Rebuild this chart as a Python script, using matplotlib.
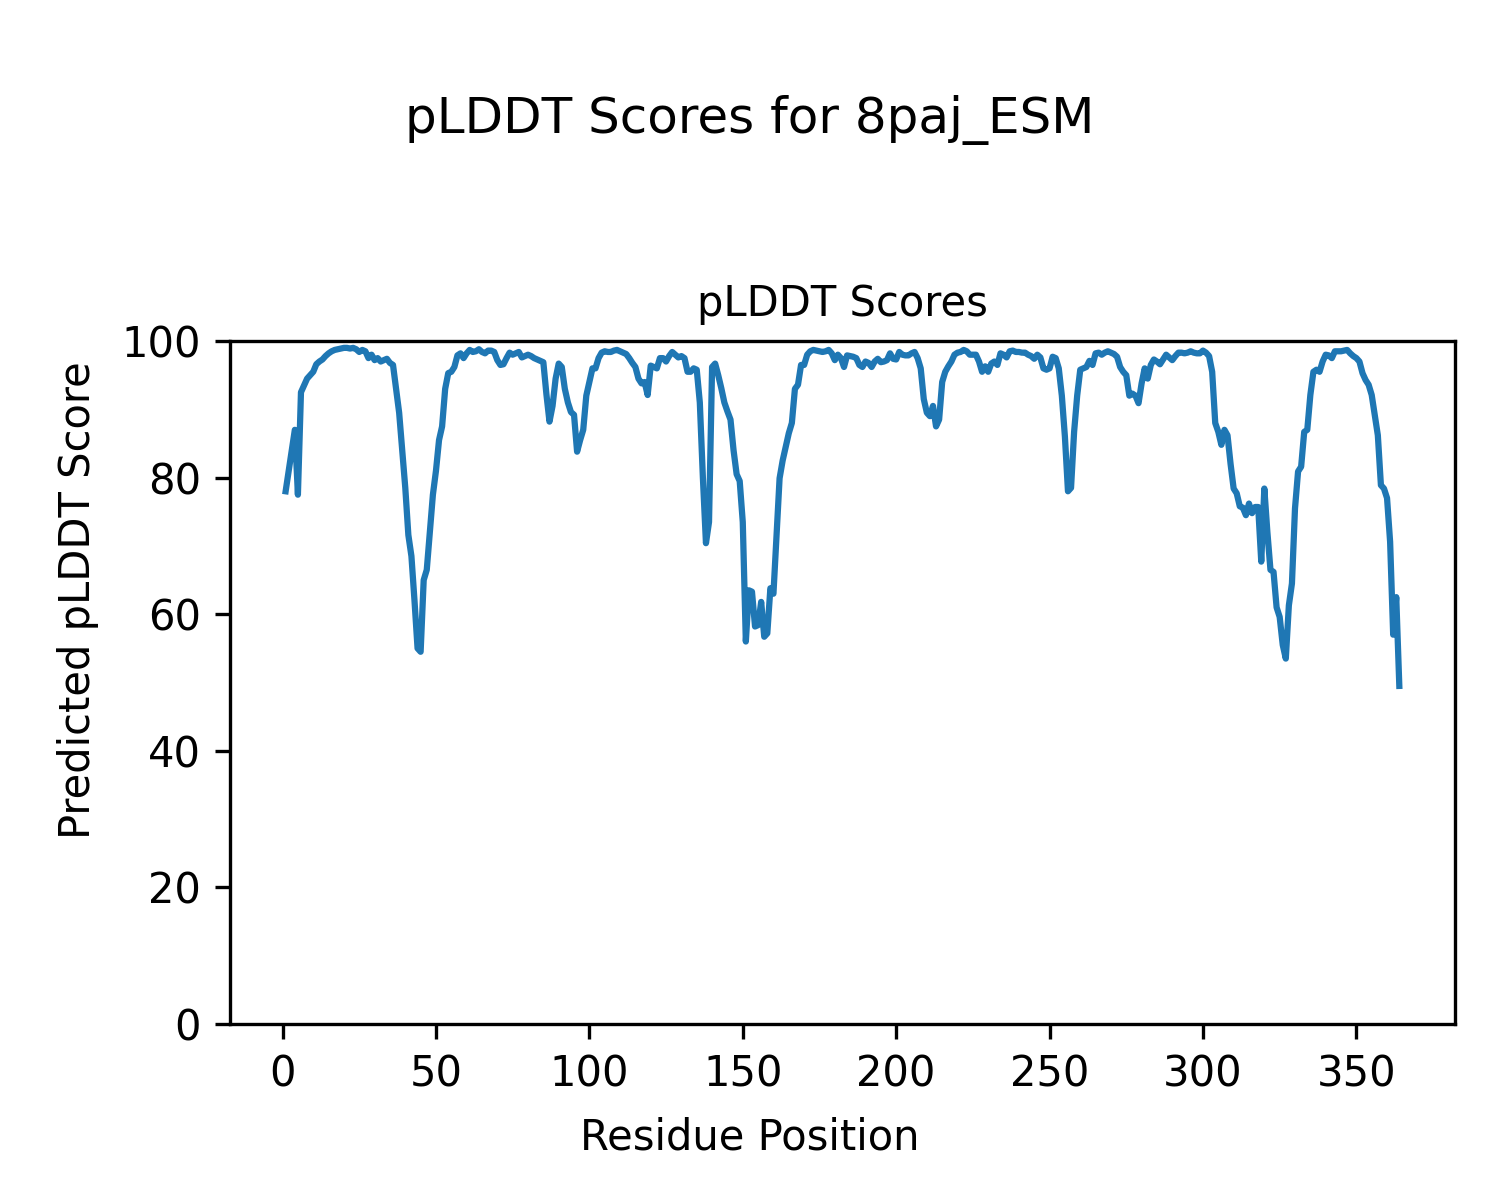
import numpy as np
import matplotlib
matplotlib.use('Agg')
import matplotlib.pyplot as plt


protein_id = '8paj_ESM'

# per-residue pLDDT (residues 1..364)
plddt = [
    78, 81, 84, 87, 77.5, 92.5, 93.5, 94.5, 95, 95.5,
    96.6, 97, 97.3, 97.8, 98.2, 98.5, 98.7, 98.8, 98.9, 99,
    99, 98.9, 99, 98.8, 98.4, 98.7, 98.5, 97.5, 98, 97.2,
    97.5, 97.0, 97.2, 97.4, 96.8, 96.5, 93, 89.5, 84, 78.5,
    71.6, 68.5, 62, 55, 54.5, 65, 66.5, 72, 77.5, 81,
    85.5, 87.5, 93, 95.3, 95.5, 96.2, 97.9, 98.2, 97.5, 98.2,
    98.7, 98.4, 98.5, 98.8, 98.4, 98.2, 98.6, 98.6, 98.4, 97.2,
    96.5, 96.6, 97.5, 98.3, 98, 98.2, 98.4, 97.6, 97.8, 98,
    97.8, 97.5, 97.3, 97.1, 96.9, 92.2, 88.2, 90.5, 94.5, 96.7,
    96.2, 93, 91, 89.6, 89.2, 83.8, 85.5, 87, 92, 94,
    96, 96, 97.5, 98.3, 98.5, 98.4, 98.4, 98.6, 98.7, 98.5,
    98.3, 98.1, 97.5, 96.8, 96.2, 94.5, 93.8, 94, 92.1, 96.4,
    96.2, 96, 97.5, 97.5, 97, 97.8, 98.4, 98, 97.6, 97.8,
    97.5, 95.5, 95.5, 96, 95.8, 91, 80, 70.4, 73.5, 96.2,
    96.7, 95, 93.1, 91, 89.7, 88.5, 84, 80.5, 79.5, 73.5,
    56, 63.5, 63.3, 58.2, 58.4, 61.8, 56.7, 57.2, 63.8, 63,
    71.6, 79.9, 82.5, 84.5, 86.5, 88, 93, 93.6, 96.5, 96.5,
    98, 98.5, 98.7, 98.6, 98.5, 98.4, 98.5, 98.7, 98.2, 97.2,
    98, 97.5, 96.2, 97.9, 97.8, 97.7, 97.5, 96.5, 96.2, 97,
    96.8, 96.2, 97, 97.4, 96.9, 97, 97.2, 98.2, 97.4, 97.3,
    98.4, 98, 97.9, 97.9, 98.2, 98.4, 97.5, 96, 91.5, 89.5,
    89, 90.5, 87.5, 88.5, 94, 95.5, 96.3, 97, 98, 98.3,
    98.4, 98.7, 98.5, 98, 98, 98, 97, 95.5, 96.3, 95.5,
    96.7, 97, 96.5, 98.2, 98, 97.6, 98.5, 98.6, 98.4, 98.4,
    98.3, 98.3, 98, 97.8, 97.4, 98, 97.6, 96, 95.8, 96,
    97.7, 97.5, 96, 92, 86, 78, 78.5, 86.7, 92, 95.8,
    96, 96.2, 97.1, 96.5, 98.2, 98.3, 98, 98.3, 98.5, 98.3,
    98.1, 97.7, 96.2, 95.5, 95, 92, 92.3, 92, 90.9, 93.8,
    96, 94.5, 96.5, 97.3, 97, 96.6, 97.3, 98, 97.6, 97.2,
    97.8, 98.3, 98.3, 98.2, 98.3, 98.5, 98.3, 98.2, 98.2, 98.6,
    98.3, 97.8, 95.5, 88, 86.7, 84.8, 87, 86.2, 82, 78.4,
    77.7, 75.8, 75.6, 74.5, 76.2, 74.8, 75.7, 75.7, 67.7, 78.4,
    72, 66.5, 66.2, 61, 59.6, 55.5, 53.5, 61.3, 64.5, 75.5,
    80.9, 81.6, 86.7, 87, 92.1, 95.5, 95.8, 95.5, 97, 98,
    97.9, 97.5, 98.5, 98.5, 98.5, 98.6, 98.7, 98.2, 97.8, 97.5,
    97, 95.3, 94.3, 93.6, 92.1, 89.2, 86.2, 78.9, 78.4, 77,
    70.6, 57, 62.5, 49.5,
]

residues = np.arange(1, len(plddt) + 1)

fig = plt.figure(figsize=(5, 4), dpi=300)
ax = fig.add_subplot(111)
fig.subplots_adjust(left=0.1533, right=0.97, bottom=0.1467, top=0.7158)

ax.plot(residues, plddt, color='tab:blue', linewidth=1.5)
ax.set_ylim(0, 100)
ax.set_title('pLDDT Scores', fontsize=10)

# axis labels sit on the figure, centred on the whole canvas
fig.supxlabel('Residue Position', fontsize=10, y=0.052, va='center')
fig.supylabel('Predicted pLDDT Score', fontsize=10, x=0.052, ha='center')
fig.suptitle('pLDDT Scores for ' + protein_id, y=0.9, va='center', fontsize=12)

fig.savefig('out.png', dpi=300)
